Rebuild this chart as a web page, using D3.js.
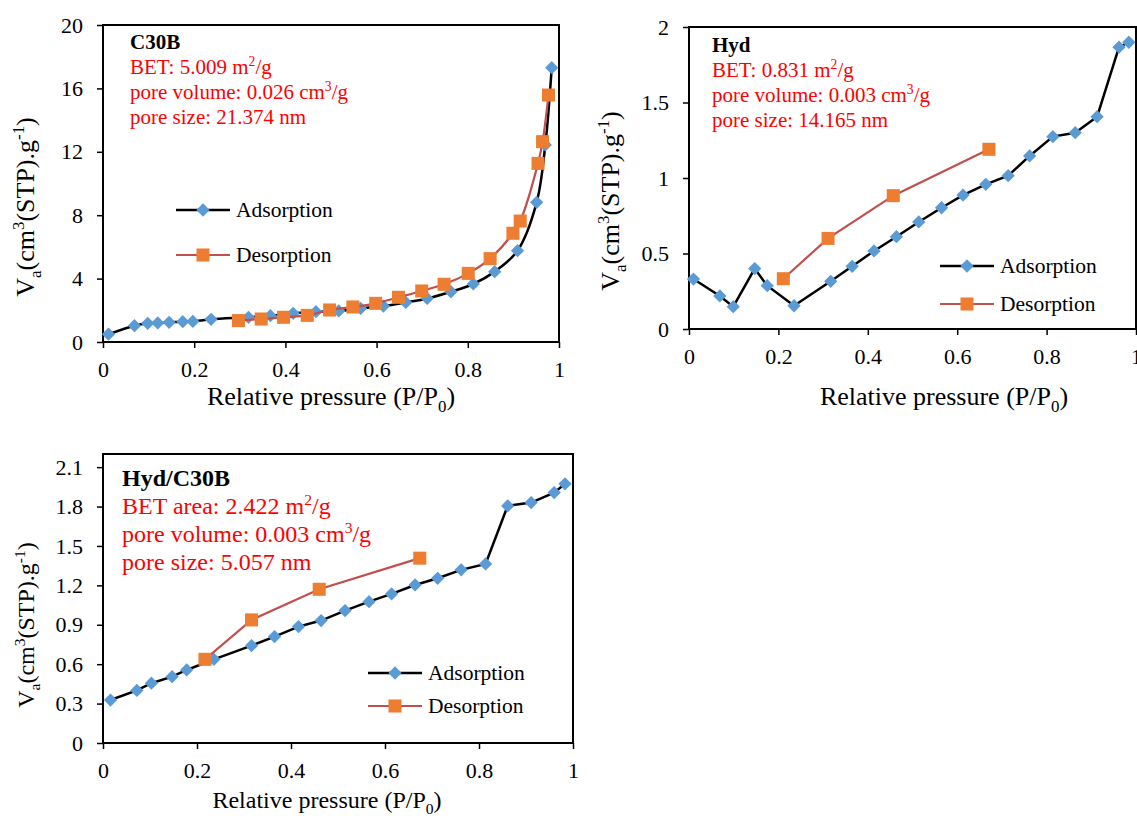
<!DOCTYPE html>
<html>
<head>
<meta charset="utf-8">
<script src="https://cdn.jsdelivr.net/npm/d3@7"></script>
<style>body { margin: 0; background: #fff; }</style>
</head>
<body>
<div id="chart"></div>
<script>
// ---- data ----
var xTicks = [0, 0.2, 0.4, 0.6, 0.8, 1];

// C30B
var c30bYTicks = [0, 4, 8, 12, 16, 20];
var c30bAdsP = [0.012, 0.069, 0.098, 0.12, 0.145, 0.175, 0.197, 0.237, 0.319, 0.367, 0.417, 0.467, 0.517, 0.565, 0.615, 0.664, 0.711, 0.763, 0.812, 0.859, 0.909, 0.951, 0.970, 0.984];
var c30bAdsV = [0.49, 1.03, 1.18, 1.2, 1.24, 1.28, 1.30, 1.43, 1.56, 1.66, 1.81, 1.91, 1.96, 2.12, 2.27, 2.50, 2.75, 3.17, 3.66, 4.44, 5.76, 8.81, 12.43, 17.31];
var c30bDesP = [0.297, 0.347, 0.396, 0.448, 0.497, 0.548, 0.598, 0.648, 0.699, 0.748, 0.801, 0.849, 0.899, 0.915, 0.954, 0.964, 0.977];
var c30bDesV = [1.35, 1.45, 1.56, 1.68, 2.02, 2.21, 2.44, 2.82, 3.22, 3.64, 4.33, 5.26, 6.86, 7.63, 11.27, 12.64, 15.58];

// Hyd
var hydYTicks = [0, 0.5, 1, 1.5, 2];
var hydAdsP = [0.010, 0.069, 0.099, 0.147, 0.175, 0.235, 0.317, 0.365, 0.414, 0.464, 0.514, 0.565, 0.613, 0.664, 0.714, 0.762, 0.814, 0.864, 0.913, 0.962, 0.984];
var hydAdsV = [0.331, 0.219, 0.148, 0.40, 0.287, 0.154, 0.316, 0.415, 0.517, 0.611, 0.709, 0.803, 0.887, 0.958, 1.015, 1.146, 1.274, 1.30, 1.406, 1.866, 1.899];
var hydDesP = [0.211, 0.311, 0.457, 0.671];
var hydDesV = [0.333, 0.60, 0.883, 1.19];

// Hyd/C30B
var mixYTicks = [0, 0.3, 0.6, 0.9, 1.2, 1.5, 1.8, 2.1];
var mixAdsP = [0.016, 0.072, 0.103, 0.147, 0.178, 0.236, 0.316, 0.365, 0.416, 0.464, 0.515, 0.566, 0.614, 0.664, 0.712, 0.762, 0.814, 0.861, 0.911, 0.96, 0.983];
var mixAdsV = [0.327, 0.40, 0.455, 0.505, 0.556, 0.637, 0.741, 0.81, 0.886, 0.932, 1.008, 1.076, 1.135, 1.203, 1.254, 1.318, 1.363, 1.805, 1.83, 1.906, 1.973];
var mixDesP = [0.217, 0.316, 0.46, 0.674];
var mixDesV = [0.637, 0.937, 1.17, 1.407];

var seriesNames = ["Adsorption", "Desorption"];

// ---- drawing ----
var W = 1137, H = 816;
var FONT = "'Liberation Serif'";
var svg = d3.select("#chart").append("svg").attr("width", W).attr("height", H);

var adsColor = "#5B9BD5", desColor = "#ED7D31", desLine = "#C0504D", noteColor = "#FF0000";

function txt(sel, size) {
  return sel.append("text").attr("font-size", size).style("font-family", FONT);
}

// text with sub/superscripts: parts = [[string, mode]] mode 1 sup, -1 sub
function rich(text, parts, size) {
  var shift = 0;
  parts.forEach(function (p) {
    var want = p[1] === 1 ? -0.38 * size : p[1] === -1 ? 0.25 * size : 0;
    text.append("tspan")
      .attr("dy", want - shift)
      .attr("font-size", p[1] ? size * 0.65 : size)
      .style("font-family", FONT)
      .text(p[0]);
    shift = want;
  });
}

function marker(sel, kind, x, y) {
  if (kind === 0) {
    sel.append("path")
      .attr("d", d3.symbol(d3.symbolSquare, 88)())
      .attr("transform", "translate(" + x + "," + y + ") rotate(45)")
      .attr("fill", adsColor);
  } else {
    sel.append("path")
      .attr("d", d3.symbol(d3.symbolSquare, 170)())
      .attr("transform", "translate(" + x + "," + y + ")")
      .attr("fill", desColor);
  }
}

function panel(cfg) {
  var x = d3.scaleLinear().domain([0, 1]).range([cfg.left, cfg.right]);
  var y = d3.scaleLinear().domain([0, cfg.ymax]).range([cfg.bottom, cfg.top]);
  var g = svg.append("g");

  var xa = g.append("g").attr("transform", "translate(0," + cfg.bottom + ")")
    .call(d3.axisBottom(x).tickValues(xTicks).tickFormat(String).tickSize(6).tickSizeOuter(0).tickPadding(13));
  var ya = g.append("g").attr("transform", "translate(" + cfg.left + ",0)")
    .call(d3.axisLeft(y).tickValues(cfg.yTicks).tickFormat(String).tickSize(6).tickSizeOuter(0).tickPadding(14));
  [xa, ya].forEach(function (a) {
    a.attr("font-family", null).attr("font-size", cfg.tickFont);
    a.select(".domain").remove();
    a.selectAll("line").attr("stroke", "#000").attr("stroke-width", 1.5);
    a.selectAll("text").attr("fill", "#000").attr("font-size", cfg.tickFont)
      .style("font-family", FONT);
  });

  g.append("rect")
    .attr("x", cfg.left).attr("y", cfg.top)
    .attr("width", cfg.right - cfg.left).attr("height", cfg.bottom - cfg.top)
    .attr("fill", "none").attr("stroke", "#000").attr("stroke-width", 2);

  var line = d3.line().x(function (d) { return x(d[0]); }).y(function (d) { return y(d[1]); });
  if (cfg.smooth) line.curve(d3.curveCatmullRom.alpha(0.5));

  var ads = d3.zip(cfg.adsP, cfg.adsV), des = d3.zip(cfg.desP, cfg.desV);
  g.append("path").attr("d", line(ads)).attr("fill", "none").attr("stroke", "#000").attr("stroke-width", 2.5);
  ads.forEach(function (d) { marker(g, 0, x(d[0]), y(d[1])); });
  g.append("path").attr("d", line(des)).attr("fill", "none").attr("stroke", desLine).attr("stroke-width", 2.2);
  des.forEach(function (d) { marker(g, 1, x(d[0]), y(d[1])); });

  // annotation
  var n = cfg.note;
  txt(g, n.size).attr("x", n.x).attr("y", n.y).attr("font-weight", "bold").text(cfg.name);
  n.lines.forEach(function (parts, i) {
    var t = txt(g, n.size).attr("x", n.x).attr("y", n.y + (i + 1) * n.gap).attr("fill", noteColor);
    rich(t, parts, n.size);
  });

  // legend
  var L = cfg.legend;
  seriesNames.forEach(function (s, i) {
    var ly = L.y + i * L.gap;
    g.append("line").attr("x1", L.x).attr("x2", L.x + 54).attr("y1", ly).attr("y2", ly)
      .attr("stroke", i ? desLine : "#000").attr("stroke-width", i ? 2.2 : 2.5);
    marker(g, i, L.x + 27, ly);
    txt(g, 21.5).attr("x", L.x + 60).attr("y", ly + 7).text(s);
  });

  // axis titles
  var xt = txt(g, cfg.titleFont).attr("x", cfg.xTitle[0]).attr("y", cfg.xTitle[1]).attr("text-anchor", "middle");
  rich(xt, [["Relative pressure (P/P", 0], ["0", -1], [")", 0]], cfg.titleFont);
  var yt = txt(g, cfg.titleFont).attr("text-anchor", "middle")
    .attr("transform", "translate(" + cfg.yTitle[0] + "," + cfg.yTitle[1] + ") rotate(-90)");
  rich(yt, [["V", 0], ["a", -1], ["(cm", 0], ["3", 1], ["(STP).g", 0], ["-1", 1], [")", 0]], cfg.titleFont);
}

panel({
  name: "C30B", left: 103, right: 559, top: 25, bottom: 342, ymax: 20, yTicks: c30bYTicks,
  adsP: c30bAdsP, adsV: c30bAdsV, desP: c30bDesP, desV: c30bDesV, smooth: true,
  tickFont: 22, titleFont: 26,
  note: { x: 130, y: 49, gap: 25, size: 21, lines: [
    [["BET: 5.009 m", 0], ["2", 1], ["/g", 0]],
    [["pore volume: 0.026 cm", 0], ["3", 1], ["/g", 0]],
    [["pore size: 21.374 nm", 0]]] },
  legend: { x: 176, y: 210, gap: 45 },
  xTitle: [331, 405], yTitle: [34, 207]
});

panel({
  name: "Hyd", left: 689, right: 1136, top: 27, bottom: 329, ymax: 2, yTicks: hydYTicks,
  adsP: hydAdsP, adsV: hydAdsV, desP: hydDesP, desV: hydDesV, smooth: false,
  tickFont: 22, titleFont: 26,
  note: { x: 712, y: 52, gap: 25, size: 21, lines: [
    [["BET: 0.831 m", 0], ["2", 1], ["/g", 0]],
    [["pore volume: 0.003 cm", 0], ["3", 1], ["/g", 0]],
    [["pore size: 14.165 nm", 0]]] },
  legend: { x: 940, y: 266, gap: 38 },
  xTitle: [944, 405], yTitle: [619, 201]
});

panel({
  name: "Hyd/C30B", left: 103, right: 573, top: 454, bottom: 743, ymax: 2.2, yTicks: mixYTicks,
  adsP: mixAdsP, adsV: mixAdsV, desP: mixDesP, desV: mixDesV, smooth: false,
  tickFont: 22, titleFont: 24,
  note: { x: 122, y: 486, gap: 28, size: 24, lines: [
    [["BET area: 2.422 m", 0], ["2", 1], ["/g", 0]],
    [["pore volume: 0.003 cm", 0], ["3", 1], ["/g", 0]],
    [["pore size: 5.057 nm", 0]]] },
  legend: { x: 368, y: 673, gap: 33 },
  xTitle: [327, 808], yTitle: [34, 625]
});
</script>
</body>
</html>
